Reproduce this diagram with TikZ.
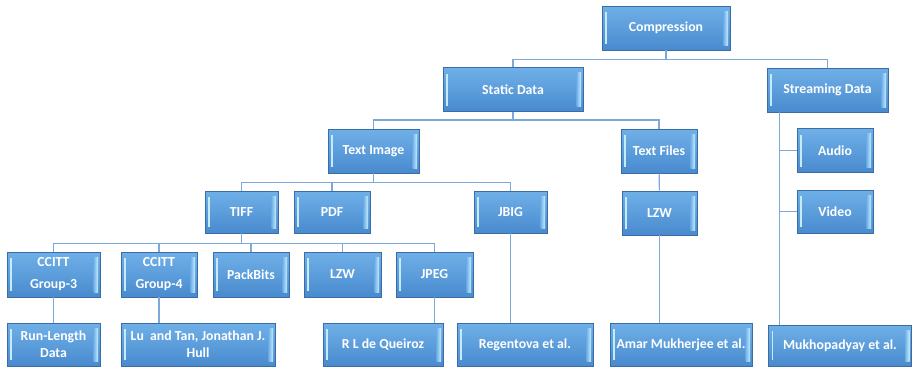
\documentclass[tikz,border=0pt]{standalone}
\usepackage{fontspec}
\setmainfont{Carlito}
\usetikzlibrary{calc,positioning}
\definecolor{boxtop}{RGB}{112,176,232}
\definecolor{boxbot}{RGB}{72,138,206}
\definecolor{boxline}{RGB}{60,108,165}
\definecolor{bevel}{RGB}{196,236,252}
\definecolor{linkc}{RGB}{124,168,218}
\tikzset{
  treebox/.style={draw=boxline, line width=0.9pt, top color=boxtop, bottom color=boxbot,
    text=white, font=\fontsize{13.8}{17}\selectfont\bfseries, align=center, inner sep=1pt,
    minimum height=44pt,
    path picture={
      \fill[bevel] ([xshift=3pt,yshift=6pt]path picture bounding box.south west)
        rectangle ([xshift=4.8pt,yshift=-6pt]path picture bounding box.north west);
      \shade[left color=boxtop, right color=bevel] ([xshift=-6.5pt,yshift=5pt]path picture bounding box.south east)
        rectangle ([xshift=-2pt,yshift=-5pt]path picture bounding box.north east);
    }},
  link/.style={draw=linkc, line width=1.1pt}
}
\begin{document}
\begin{tikzpicture}[x=1pt, y=-1pt]
  \useasboundingbox (0,0) rectangle (912,367);

  % levels 1 and 2
  \node[treebox, minimum width=128pt] (comp) at (666,28) {Compression};
  \node[treebox, minimum width=140pt] (static) at (513,89.5) {Static Data};
  \node[treebox, minimum width=121pt] (stream) at (827.5,90) {Streaming Data};

  % level 3
  \node[treebox, minimum width=91pt] (timg) at (373.5,151) {Text Image};
  \node[treebox, minimum width=76pt] (tfiles) at (659,151) {Text Files};
  \node[treebox, minimum width=76pt] (audio) at (835,150.5) {Audio};

  % level 4
  \node[treebox, minimum width=73pt, minimum height=42pt] (tiff) at (241.5,212) {TIFF};
  \node[treebox, minimum width=76pt, minimum height=42pt] (pdf) at (332,212) {PDF};
  \node[treebox, minimum width=73pt, minimum height=42pt] (jbig) at (510.5,212) {JBIG};
  \node[treebox, minimum width=75pt] (lzwb) at (659.5,213) {LZW};
  \node[treebox, minimum width=76pt, minimum height=43pt] (video) at (835,211.5) {Video};

  % level 5
  \node[treebox, minimum width=93pt, minimum height=45pt] (gthree) at (53.5,274.5) {CCITT\\[5pt]Group-3};
  \node[treebox, minimum width=76pt, minimum height=45pt] (gfour) at (159,274.5) {CCITT\\[5pt]Group-4};
  \node[treebox, minimum width=76pt, minimum height=45pt] (packb) at (251,274.5) {PackBits};
  \node[treebox, minimum width=77pt, minimum height=45pt] (lzwa) at (342.5,274.5) {LZW};
  \node[treebox, minimum width=77pt, minimum height=45pt] (jpeg) at (434.5,274.5) {JPEG};

  % level 6
  \node[treebox, minimum width=93pt, minimum height=43pt] (runlen) at (53.5,344.5) {Run-Length\\Data};
  \node[treebox, minimum width=154pt, minimum height=43pt] (lutan) at (198,344.5) {Lu~ and Tan, Jonathan J.\\Hull};
  \node[treebox, minimum width=120pt, minimum height=43pt] (queir) at (383,344.5) {R L de Queiroz};
  \node[treebox, minimum width=136pt, minimum height=43pt] (regen) at (525,344.5) {Regentova et al.};
  \node[treebox, minimum width=142pt, minimum height=43pt] (amar) at (681,344.5) {Amar Mukherjee et al.};
  \node[treebox, minimum width=143pt, minimum height=41pt] (mukho) at (840,345.5) {Mukhopadyay et al.};

  % connectors
  \draw[link] (comp.south) -- ++(0,9) -| (static.north);
  \draw[link] (comp.south) -- ++(0,9) -| (stream.north);
  \draw[link] (static.south) -- ++(0,8) -| (timg.north);
  \draw[link] (static.south) -- ++(0,8) -| (tfiles.north);
  \draw[link] (timg.south) -- ++(0,9) -| (tiff.north);
  \draw[link] (timg.south) -- ++(0,9) -| (pdf.north);
  \draw[link] (timg.south) -- ++(0,9) -| (jbig.north);
  \draw[link] (tfiles) -- (lzwb);
  \foreach \c in {gthree,gfour,packb,lzwa,jpeg}
    \draw[link] (tiff.south) -- ++(0,10) -| (\c.north);
  \draw[link] (gthree) -- (runlen);
  \draw[link] (gfour.south) -- (gfour.south |- lutan.north);
  \draw[link] (jpeg.south) -- (jpeg.south |- queir.north);
  \draw[link] (jbig.south) -- (jbig.south |- regen.north);
  \draw[link] (lzwb.south) -- (lzwb.south |- amar.north);
  \coordinate (trunk) at ([xshift=13pt]stream.south west);
  \draw[link] (trunk) -- (trunk |- mukho.north);
  \draw[link] (trunk |- audio.west) -- (audio.west);
  \draw[link] (trunk |- video.west) -- (video.west);
\end{tikzpicture}
\end{document}
